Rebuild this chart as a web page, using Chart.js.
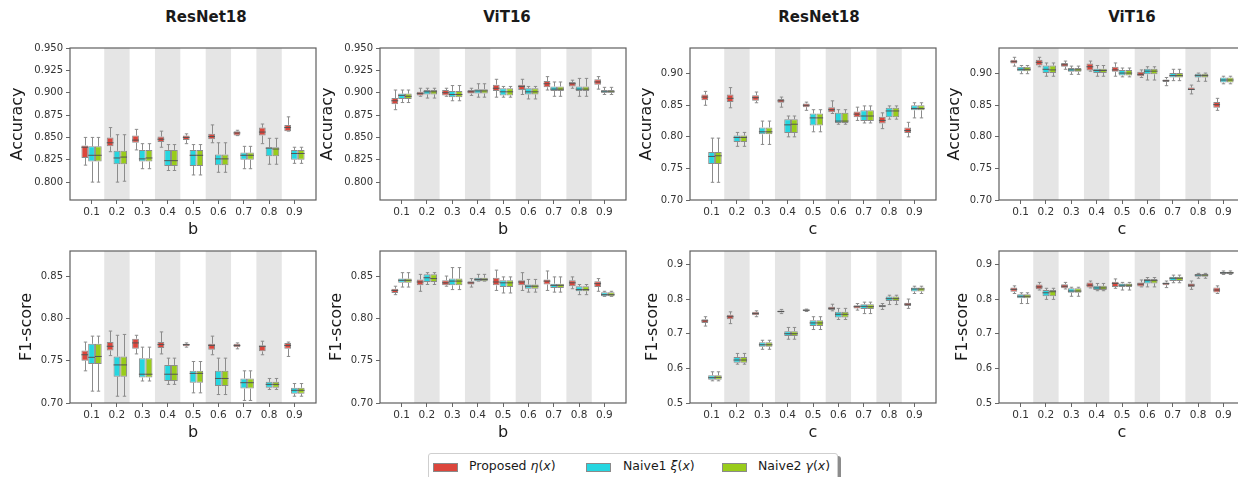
<!DOCTYPE html>
<html>
<head>
<meta charset="utf-8">
<script src="https://cdn.jsdelivr.net/npm/chart.js@4.4.1/dist/chart.umd.min.js"></script>
<style>
  body { margin: 0; width: 1238px; height: 477px; overflow: hidden; background: #fff; position: relative;
         font-family: "DejaVu Sans", sans-serif; color: #1a1a1a; }
  canvas { position: absolute; }
  .coltitle { position: absolute; font-weight: bold; font-size: 15px; transform: translate(-50%, -50%); white-space: nowrap; }
  #legend { position: absolute; left: 428px; top: 453px; width: 408px; height: 32px; border: 1px solid #cfcfcf;
            border-radius: 3px; background: #fff; box-shadow: 3px 3px 0 rgba(0,0,0,0.45); }
  .patch { position: absolute; top: 9px; width: 25px; height: 9px; border: 1px solid #8a8a8a; box-sizing: border-box; }
  .ltext { position: absolute; top: 4px; font-size: 12.5px; white-space: nowrap; }
</style>
</head>
<body>
<div class="coltitle" style="left:206px;top:17px">ResNet18</div>
<div class="coltitle" style="left:507px;top:17px">ViT16</div>
<div class="coltitle" style="left:819px;top:17px">ResNet18</div>
<div class="coltitle" style="left:1132px;top:17px">ViT16</div>
<div id="legend">
  <div class="patch" style="left:4px;background:#dc463c"></div>
  <div class="ltext" style="left:40px">Proposed <i>η</i>(<i>x</i>)</div>
  <div class="patch" style="left:157px;background:#26d6e0"></div>
  <div class="ltext" style="left:194px">Naive1 <i>ξ</i>(<i>x</i>)</div>
  <div class="patch" style="left:293px;background:#99cc1b"></div>
  <div class="ltext" style="left:329px">Naive2 <i>γ</i>(<i>x</i>)</div>
</div>
<script>
const bLabels = ["0.1", "0.2", "0.3", "0.4", "0.5", "0.6", "0.7", "0.8", "0.9"];
const cLabels = ["0.1", "0.2", "0.3", "0.4", "0.5", "0.6", "0.7", "0.8", "0.9"];
const seriesNames = ["Proposed", "Naive1", "Naive2"];
const seriesColors = ["#dc463c", "#26d6e0", "#99cc1b"];

// each entry: [min, q1, median, q3, max]
const resnetAccB_proposed = [[0.819,0.827,0.839,0.841,0.850],[0.834,0.840,0.844,0.850,0.861],[0.836,0.844,0.847,0.852,0.859],[0.839,0.845,0.848,0.851,0.857],[0.843,0.847,0.850,0.852,0.854],[0.844,0.848,0.851,0.854,0.864],[0.852,0.852,0.855,0.857,0.858],[0.843,0.852,0.856,0.861,0.865],[0.857,0.857,0.861,0.864,0.873]];
const resnetAccB_naive1 = [[0.800,0.823,0.830,0.840,0.850],[0.800,0.820,0.827,0.835,0.853],[0.815,0.823,0.826,0.836,0.843],[0.813,0.818,0.824,0.836,0.842],[0.808,0.818,0.830,0.836,0.842],[0.811,0.819,0.826,0.831,0.844],[0.815,0.825,0.830,0.833,0.840],[0.820,0.829,0.838,0.839,0.849],[0.821,0.825,0.832,0.836,0.839]];
const resnetAccB_naive2 = [[0.800,0.823,0.830,0.840,0.850],[0.801,0.820,0.828,0.835,0.853],[0.815,0.823,0.827,0.836,0.843],[0.813,0.818,0.824,0.836,0.842],[0.808,0.818,0.830,0.836,0.842],[0.811,0.819,0.826,0.831,0.844],[0.815,0.825,0.830,0.833,0.840],[0.820,0.829,0.837,0.839,0.849],[0.821,0.825,0.832,0.836,0.839]];

const vitAccB_proposed = [[0.881,0.887,0.891,0.894,0.903],[0.896,0.897,0.899,0.901,0.905],[0.896,0.897,0.900,0.903,0.905],[0.897,0.899,0.901,0.903,0.905],[0.895,0.902,0.905,0.909,0.915],[0.898,0.903,0.907,0.909,0.915],[0.903,0.906,0.910,0.913,0.918],[0.905,0.907,0.910,0.912,0.914],[0.904,0.909,0.912,0.915,0.918]];
const vitAccB_naive1 = [[0.889,0.893,0.897,0.899,0.903],[0.894,0.898,0.901,0.903,0.905],[0.891,0.895,0.898,0.902,0.908],[0.895,0.899,0.902,0.904,0.910],[0.895,0.897,0.901,0.905,0.907],[0.893,0.898,0.901,0.905,0.907],[0.896,0.902,0.904,0.907,0.912],[0.896,0.902,0.904,0.907,0.916],[0.898,0.900,0.901,0.903,0.906]];
const vitAccB_naive2 = [[0.889,0.893,0.896,0.899,0.903],[0.894,0.898,0.901,0.903,0.905],[0.891,0.895,0.898,0.902,0.908],[0.895,0.899,0.902,0.904,0.910],[0.895,0.897,0.901,0.905,0.907],[0.893,0.898,0.901,0.905,0.907],[0.896,0.902,0.904,0.907,0.912],[0.896,0.902,0.904,0.907,0.916],[0.898,0.900,0.901,0.903,0.906]];

const resnetAccC_proposed = [[0.850,0.858,0.863,0.867,0.872],[0.846,0.855,0.861,0.867,0.878],[0.854,0.857,0.862,0.866,0.871],[0.847,0.854,0.857,0.860,0.863],[0.842,0.847,0.850,0.853,0.855],[0.837,0.839,0.843,0.847,0.857],[0.826,0.831,0.836,0.840,0.847],[0.813,0.821,0.826,0.832,0.838],[0.800,0.806,0.810,0.815,0.823]];
const resnetAccC_naive1 = [[0.728,0.757,0.769,0.776,0.798],[0.785,0.792,0.799,0.802,0.807],[0.788,0.804,0.808,0.815,0.825],[0.800,0.806,0.819,0.828,0.833],[0.808,0.818,0.830,0.837,0.843],[0.820,0.822,0.825,0.838,0.843],[0.822,0.825,0.833,0.842,0.849],[0.828,0.831,0.841,0.846,0.849],[0.830,0.842,0.845,0.850,0.854]];
const resnetAccC_naive2 = [[0.728,0.757,0.770,0.776,0.798],[0.785,0.792,0.799,0.802,0.807],[0.788,0.804,0.808,0.815,0.825],[0.800,0.806,0.820,0.828,0.833],[0.808,0.818,0.830,0.837,0.843],[0.820,0.822,0.825,0.838,0.843],[0.822,0.825,0.833,0.842,0.849],[0.828,0.831,0.841,0.846,0.849],[0.830,0.842,0.845,0.850,0.854]];

const vitAccC_proposed = [[0.912,0.916,0.919,0.922,0.926],[0.911,0.913,0.918,0.922,0.926],[0.907,0.911,0.914,0.917,0.920],[0.904,0.905,0.911,0.916,0.920],[0.896,0.903,0.906,0.911,0.917],[0.894,0.896,0.899,0.903,0.906],[0.881,0.887,0.889,0.891,0.894],[0.868,0.874,0.875,0.878,0.882],[0.842,0.846,0.851,0.855,0.861]];
const vitAccC_naive1 = [[0.900,0.904,0.907,0.911,0.913],[0.896,0.901,0.907,0.913,0.917],[0.899,0.903,0.906,0.909,0.912],[0.896,0.901,0.905,0.908,0.913],[0.895,0.897,0.901,0.906,0.909],[0.890,0.899,0.904,0.908,0.911],[0.889,0.894,0.897,0.901,0.907],[0.888,0.894,0.897,0.900,0.901],[0.884,0.886,0.890,0.894,0.896]];
const vitAccC_naive2 = [[0.900,0.904,0.907,0.911,0.913],[0.896,0.901,0.906,0.913,0.917],[0.899,0.903,0.906,0.909,0.912],[0.896,0.901,0.905,0.908,0.913],[0.895,0.897,0.901,0.906,0.909],[0.890,0.899,0.904,0.908,0.911],[0.889,0.894,0.897,0.901,0.907],[0.888,0.894,0.897,0.900,0.901],[0.884,0.886,0.890,0.894,0.896]];

const resnetF1B_proposed = [[0.738,0.750,0.757,0.762,0.772],[0.756,0.762,0.767,0.772,0.785],[0.758,0.764,0.771,0.776,0.780],[0.758,0.765,0.769,0.772,0.784],[0.766,0.767,0.769,0.770,0.771],[0.757,0.763,0.768,0.770,0.779],[0.764,0.766,0.768,0.770,0.771],[0.757,0.761,0.767,0.768,0.773],[0.755,0.764,0.768,0.771,0.772]];
const resnetF1B_naive1 = [[0.714,0.746,0.754,0.770,0.779],[0.708,0.731,0.745,0.755,0.780],[0.726,0.730,0.734,0.753,0.766],[0.722,0.726,0.734,0.745,0.753],[0.712,0.724,0.735,0.738,0.749],[0.710,0.720,0.729,0.738,0.753],[0.703,0.717,0.724,0.729,0.738],[0.716,0.718,0.722,0.725,0.729],[0.708,0.711,0.715,0.718,0.723]];
const resnetF1B_naive2 = [[0.714,0.746,0.755,0.770,0.779],[0.708,0.731,0.745,0.755,0.781],[0.726,0.730,0.734,0.753,0.766],[0.722,0.726,0.734,0.745,0.753],[0.712,0.724,0.735,0.738,0.749],[0.710,0.720,0.729,0.738,0.753],[0.703,0.717,0.724,0.729,0.738],[0.716,0.718,0.722,0.725,0.729],[0.708,0.711,0.715,0.718,0.723]];

const vitF1B_proposed = [[0.828,0.830,0.833,0.835,0.838],[0.832,0.839,0.843,0.846,0.852],[0.838,0.839,0.842,0.845,0.850],[0.837,0.840,0.842,0.844,0.847],[0.833,0.839,0.843,0.848,0.857],[0.833,0.839,0.843,0.845,0.854],[0.833,0.840,0.844,0.846,0.856],[0.835,0.838,0.842,0.845,0.849],[0.832,0.837,0.841,0.844,0.847]];
const vitF1B_naive1 = [[0.837,0.842,0.845,0.847,0.854],[0.840,0.843,0.848,0.852,0.854],[0.834,0.839,0.844,0.847,0.860],[0.844,0.844,0.846,0.848,0.852],[0.830,0.837,0.842,0.845,0.849],[0.831,0.835,0.838,0.840,0.846],[0.831,0.836,0.839,0.841,0.849],[0.828,0.832,0.834,0.838,0.840],[0.826,0.826,0.828,0.831,0.832]];
const vitF1B_naive2 = [[0.837,0.842,0.845,0.847,0.854],[0.840,0.843,0.847,0.852,0.854],[0.834,0.839,0.844,0.847,0.860],[0.844,0.844,0.846,0.848,0.852],[0.830,0.837,0.842,0.845,0.849],[0.831,0.835,0.838,0.840,0.846],[0.831,0.836,0.839,0.841,0.849],[0.828,0.832,0.834,0.838,0.840],[0.826,0.826,0.828,0.831,0.832]];

const resnetF1C_proposed = [[0.722,0.731,0.737,0.742,0.749],[0.729,0.742,0.749,0.755,0.763],[0.749,0.753,0.758,0.763,0.766],[0.758,0.761,0.764,0.767,0.770],[0.764,0.765,0.768,0.770,0.771],[0.766,0.768,0.773,0.778,0.785],[0.768,0.773,0.778,0.782,0.787],[0.770,0.776,0.780,0.782,0.787],[0.773,0.780,0.785,0.789,0.800]];
const resnetF1C_naive1 = [[0.564,0.567,0.573,0.580,0.590],[0.612,0.616,0.624,0.633,0.643],[0.655,0.662,0.668,0.675,0.681],[0.684,0.693,0.700,0.707,0.718],[0.712,0.722,0.731,0.739,0.749],[0.741,0.747,0.756,0.763,0.773],[0.758,0.771,0.779,0.785,0.791],[0.784,0.794,0.801,0.807,0.811],[0.816,0.822,0.829,0.833,0.837]];
const resnetF1C_naive2 = [[0.564,0.567,0.574,0.580,0.590],[0.612,0.616,0.624,0.633,0.643],[0.655,0.662,0.668,0.675,0.681],[0.684,0.693,0.700,0.707,0.718],[0.712,0.722,0.731,0.739,0.749],[0.741,0.747,0.756,0.763,0.773],[0.758,0.771,0.778,0.785,0.791],[0.784,0.794,0.801,0.807,0.811],[0.816,0.822,0.829,0.833,0.837]];

const vitF1C_proposed = [[0.816,0.821,0.828,0.833,0.838],[0.826,0.828,0.835,0.842,0.848],[0.829,0.831,0.837,0.843,0.848],[0.832,0.833,0.840,0.848,0.852],[0.831,0.835,0.845,0.850,0.858],[0.835,0.836,0.843,0.848,0.855],[0.833,0.840,0.845,0.848,0.852],[0.828,0.835,0.840,0.845,0.852],[0.816,0.819,0.826,0.833,0.838]];
const vitF1C_naive1 = [[0.787,0.802,0.808,0.814,0.818],[0.799,0.808,0.818,0.826,0.831],[0.808,0.818,0.823,0.831,0.834],[0.824,0.826,0.832,0.838,0.845],[0.826,0.835,0.840,0.845,0.848],[0.835,0.845,0.853,0.858,0.862],[0.847,0.852,0.860,0.864,0.869],[0.860,0.864,0.869,0.872,0.874],[0.871,0.872,0.876,0.879,0.881]];
const vitF1C_naive2 = [[0.787,0.802,0.808,0.814,0.818],[0.799,0.808,0.821,0.826,0.831],[0.808,0.818,0.823,0.831,0.834],[0.824,0.826,0.832,0.838,0.845],[0.826,0.835,0.840,0.845,0.848],[0.835,0.845,0.853,0.858,0.862],[0.847,0.852,0.860,0.864,0.869],[0.860,0.864,0.869,0.872,0.874],[0.871,0.872,0.876,0.879,0.881]];

const accTicksFine = [0.800, 0.825, 0.850, 0.875, 0.900, 0.925, 0.950];
const accTicksWide = [0.70, 0.75, 0.80, 0.85, 0.90];
const f1TicksFine = [0.70, 0.75, 0.80, 0.85];
const f1TicksWide = [0.5, 0.6, 0.7, 0.8, 0.9];

const FONT = "DejaVu Sans";
const shadedCats = [1, 3, 5, 7];

// panel layout: plot-area left/top, y-axis strip width
const panels = [
  { left: 70,  top: 48,  yw: 66, ymin: 0.78, ymax: 0.95,  ticks: accTicksFine, dec: 3, ytitle: "Accuracy", xtitle: "b", labels: bLabels, series: [resnetAccB_proposed, resnetAccB_naive1, resnetAccB_naive2] },
  { left: 380, top: 48,  yw: 66, ymin: 0.78, ymax: 0.95,  ticks: accTicksFine, dec: 3, ytitle: "Accuracy", xtitle: "b", labels: bLabels, series: [vitAccB_proposed, vitAccB_naive1, vitAccB_naive2] },
  { left: 690, top: 48,  yw: 57, ymin: 0.70, ymax: 0.9407, ticks: accTicksWide, dec: 2, ytitle: "Accuracy", xtitle: "c", labels: cLabels, series: [resnetAccC_proposed, resnetAccC_naive1, resnetAccC_naive2] },
  { left: 999, top: 48,  yw: 58, ymin: 0.70, ymax: 0.9407, ticks: accTicksWide, dec: 2, ytitle: "Accuracy", xtitle: "c", labels: cLabels, series: [vitAccC_proposed, vitAccC_naive1, vitAccC_naive2] },
  { left: 70,  top: 251, yw: 57, ymin: 0.70, ymax: 0.8796, ticks: f1TicksFine, dec: 2, ytitle: "F1-score", xtitle: "b", labels: bLabels, series: [resnetF1B_proposed, resnetF1B_naive1, resnetF1B_naive2] },
  { left: 380, top: 251, yw: 57, ymin: 0.70, ymax: 0.8796, ticks: f1TicksFine, dec: 2, ytitle: "F1-score", xtitle: "b", labels: bLabels, series: [vitF1B_proposed, vitF1B_naive1, vitF1B_naive2] },
  { left: 690, top: 251, yw: 51, ymin: 0.5, ymax: 0.9386, ticks: f1TicksWide, dec: 1, ytitle: "F1-score", xtitle: "c", labels: cLabels, series: [resnetF1C_proposed, resnetF1C_naive1, resnetF1C_naive2] },
  { left: 999, top: 251, yw: 50, ymin: 0.5, ymax: 0.9386, ticks: f1TicksWide, dec: 1, ytitle: "F1-score", xtitle: "c", labels: cLabels, series: [vitF1C_proposed, vitF1C_naive1, vitF1C_naive2] },
];

const PLOT_W = 246, PLOT_H = 152, PAD_T = 10, PAD_R = 10, X_H = 43;

const boxPlugin = {
  id: "boxes",
  beforeDatasetsDraw(chart) {
    const { ctx, chartArea: a, scales: { x } } = chart;
    ctx.save();
    ctx.fillStyle = "#e5e5e5";
    shadedCats.forEach((i) => {
      const x0 = x.getPixelForValue(i - 0.5);
      const x1 = x.getPixelForValue(i + 0.5);
      ctx.fillRect(x0, a.top, x1 - x0, a.bottom - a.top);
    });
    ctx.restore();
  },
  afterDatasetsDraw(chart) {
    const { ctx, chartArea: a, scales: { y } } = chart;
    ctx.save();
    ctx.lineWidth = 1;
    chart.data.datasets.forEach((ds, d) => {
      chart.getDatasetMeta(d).data.forEach((bar, i) => {
        const [mn, q1, md, q3, mx] = ds.stats[i];
        const cx = Math.round(bar.x) + 0.5;
        const half = bar.width / 2;
        const cap = bar.width / 4;
        const yMin = y.getPixelForValue(mn), yQ1 = y.getPixelForValue(q1);
        const yQ3 = y.getPixelForValue(q3), yMax = y.getPixelForValue(mx);
        ctx.strokeStyle = "#8c8c8c";
        ctx.beginPath();
        ctx.moveTo(cx, yQ3); ctx.lineTo(cx, yMax);
        ctx.moveTo(cx - cap, yMax); ctx.lineTo(cx + cap, yMax);
        ctx.moveTo(cx, yQ1); ctx.lineTo(cx, yMin);
        ctx.moveTo(cx - cap, yMin); ctx.lineTo(cx + cap, yMin);
        ctx.stroke();
        const yMd = y.getPixelForValue(md);
        ctx.strokeStyle = "#555";
        ctx.beginPath();
        ctx.moveTo(bar.x - half, yMd); ctx.lineTo(bar.x + half, yMd);
        ctx.stroke();
      });
    });
    ctx.strokeStyle = "#5f5f5f";
    ctx.lineWidth = 1.2;
    ctx.strokeRect(a.left, a.top, a.right - a.left, a.bottom - a.top);
    ctx.restore();
  },
};

panels.forEach((p) => {
  const cv = document.createElement("canvas");
  const w = p.yw + PLOT_W + PAD_R;
  const h = PAD_T + PLOT_H + X_H;
  cv.width = w; cv.height = h;
  cv.style.left = (p.left - p.yw) + "px";
  cv.style.top = (p.top - PAD_T) + "px";
  cv.style.width = w + "px"; cv.style.height = h + "px";
  document.body.appendChild(cv);

  const datasets = p.series.map((s, k) => ({
    label: seriesNames[k],
    data: s.map((v, i) => ({ x: i, y: [v[1], v[3]] })),
    stats: s,
    backgroundColor: seriesColors[k],
    borderColor: "#8c8c8c",
    borderWidth: 1,
    borderSkipped: false,
    categoryPercentage: 0.8,
    barPercentage: 1.0,
  }));

  const tickFont = { family: FONT, size: 10 };
  new Chart(cv, {
    type: "bar",
    data: { datasets },
    plugins: [boxPlugin],
    options: {
      responsive: false,
      animation: false,
      devicePixelRatio: 1,
      layout: { padding: { top: PAD_T, right: PAD_R, left: 0, bottom: 0 } },
      plugins: { legend: { display: false }, tooltip: { enabled: false } },
      scales: {
        x: {
          type: "linear",
          min: -0.85,
          max: 8.85,
          offset: false,
          afterFit: (s) => { s.height = X_H; },
          afterBuildTicks: (s) => { s.ticks = p.labels.map((_, i) => ({ value: i })); },
          ticks: { callback: (v) => p.labels[v], autoSkip: false, maxRotation: 0, font: { family: FONT, size: 10.5 }, color: "#333", padding: 2 },
          grid: { drawOnChartArea: false, tickLength: 4, color: "#666", offset: false },
          border: { display: false },
          title: { display: true, text: p.xtitle, font: { family: FONT, size: 16 }, color: "#1a1a1a", padding: { top: 4, bottom: 4 } },
        },
        y: {
          min: p.ymin,
          max: p.ymax,
          afterFit: (s) => { s.width = p.yw; },
          afterBuildTicks: (s) => { s.ticks = p.ticks.map((v) => ({ value: v })); },
          ticks: { callback: (v) => v.toFixed(p.dec), font: tickFont, color: "#333", padding: 3 },
          grid: { drawOnChartArea: false, tickLength: 4, color: "#666" },
          border: { display: false },
          title: { display: true, text: p.ytitle, font: { family: FONT, size: 16 }, color: "#1a1a1a", padding: { top: 4, bottom: 4 } },
        },
      },
    },
  });
});
</script>
</body>
</html>
